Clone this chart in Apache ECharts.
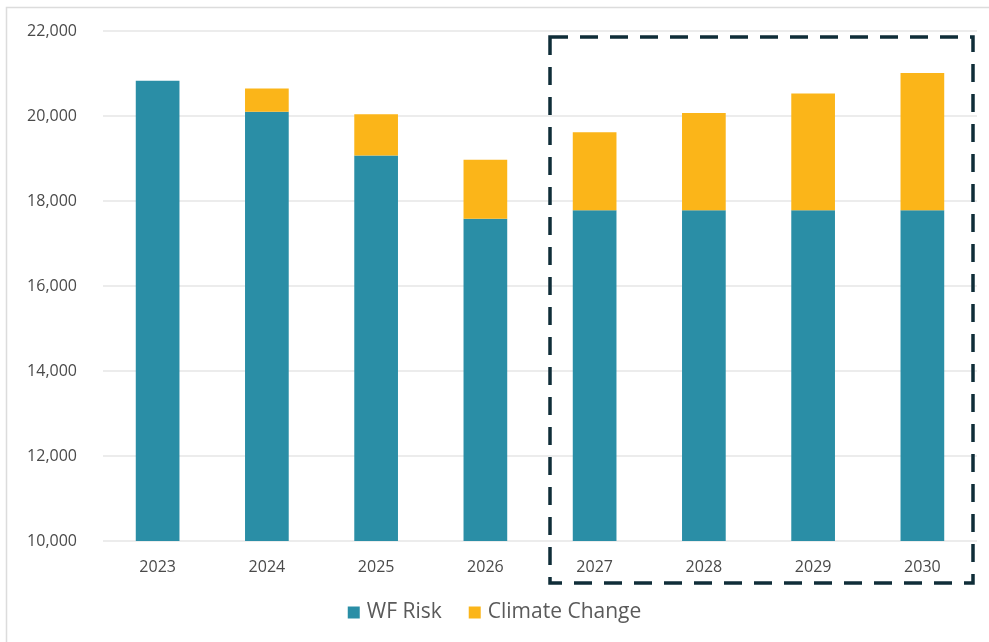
<!DOCTYPE html>
<html>
<head>
<meta charset="utf-8">
<script src="https://cdn.jsdelivr.net/npm/echarts@6/dist/echarts.min.js"></script>
<style>
html,body{margin:0;padding:0;background:#fff;}
#chart{width:989px;height:642px;}
</style>
</head>
<body>
<div id="chart"></div>
<script>
const categories = ['2023','2024','2025','2026','2027','2028','2029','2030'];
const wfRisk = [20830, 20100, 19070, 17580, 17780, 17780, 17780, 17780];
const climateChange = [0, 550, 970, 1390, 1840, 2290, 2750, 3230];
const yTicks = [10000, 12000, 14000, 16000, 18000, 20000, 22000];

const FONT = '"Open Sans", Lato, sans-serif';
const chart = echarts.init(document.getElementById('chart'), null, {renderer: 'canvas'});

chart.setOption({
  animation: false,
  backgroundColor: '#ffffff',
  grid: {left: 103, right: 12, top: 31, bottom: 101, containLabel: false},
  legend: {
    data: ['WF Risk', 'Climate Change'],
    bottom: 14,
    left: 'center',
    itemWidth: 12,
    itemHeight: 12,
    itemGap: 27,
    icon: 'rect',
    textStyle: {color: '#5a5a5a', fontFamily: FONT, fontSize: 21, padding: [0, 0, 0, 2]}
  },
  xAxis: {
    type: 'category',
    data: categories,
    axisLine: {show: false},
    axisTick: {show: false},
    axisLabel: {color: '#4a4a4a', fontFamily: FONT, fontSize: 16, margin: 18}
  },
  yAxis: {
    type: 'value',
    min: yTicks[0],
    max: yTicks[yTicks.length - 1],
    interval: 2000,
    axisLine: {show: false},
    axisTick: {show: false},
    splitLine: {lineStyle: {color: '#e6e6e6', width: 1.5}},
    axisLabel: {
      color: '#4a4a4a', fontFamily: FONT, fontSize: 16, margin: 26,
      formatter: v => v.toLocaleString('en-US')
    }
  },
  series: [
    {
      name: 'WF Risk', type: 'bar', stack: 'total', data: wfRisk,
      barWidth: '40%', itemStyle: {color: '#2A8EA6'}
    },
    {
      name: 'Climate Change', type: 'bar', stack: 'total', data: climateChange,
      barWidth: '40%', itemStyle: {color: '#FBB519'}
    }
  ]
});

// decorative frame and dashed highlight box
chart.setOption({
  graphic: [
    {
      type: 'rect', silent: true, z: 0,
      shape: {x: 6.5, y: 7.5, width: 1000, height: 700},
      style: {fill: 'none', stroke: '#dcdcdc', lineWidth: 1.5}
    },
    {
      type: 'rect', silent: true, z: 100,
      shape: {x: 550, y: 37, width: 423, height: 546},
      style: {fill: 'none', stroke: '#0f2d38', lineWidth: 3.5, lineDash: [18, 12]}
    }
  ]
});
</script>
</body>
</html>
